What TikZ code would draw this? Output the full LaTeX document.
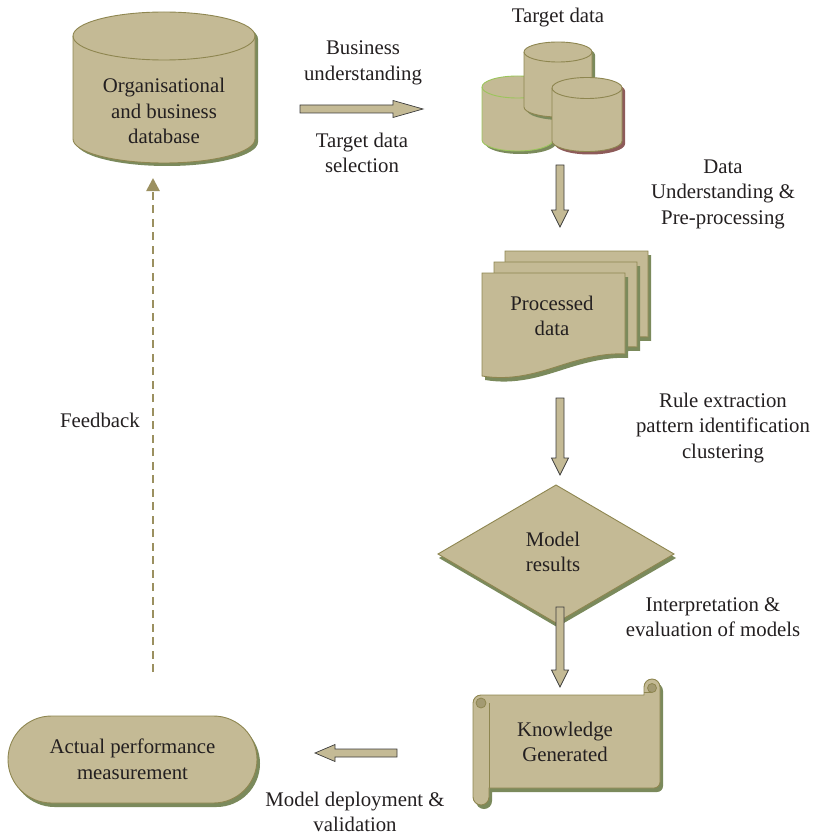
\documentclass[tikz,border=0pt]{standalone}
\usepackage{fontspec}
\setmainfont{Liberation Serif}
\newfontfamily\timesfont{Liberation Serif}
\usetikzlibrary{arrows.meta,calc}
\definecolor{tanf}{HTML}{C4BA95}
\definecolor{oliveb}{HTML}{8E8650}
\definecolor{shgreen}{HTML}{7B8A5C}
\definecolor{lgreen}{HTML}{9CC55C}
\definecolor{redbr}{HTML}{8D5B59}
\definecolor{txt}{HTML}{231F20}
\definecolor{arredge}{HTML}{3C3C3C}
\definecolor{fbcol}{HTML}{9B9060}
\definecolor{curl}{HTML}{A39A72}

% cylinder: cx, top cy, rx, ry, side-bottom y, outline colour, shadow colour
\newcommand\cylinder[7]{%
  \fill[#7, xshift=3pt, yshift=-3pt] (#1-#3,#2) -- (#1-#3,#5) arc[start angle=180,end angle=0,x radius=#3,y radius=#4] -- (#1+#3,#2) arc[start angle=0,end angle=-180,x radius=#3,y radius=#4] -- cycle;
  \filldraw[fill=tanf, draw=#6, line width=0.9pt] (#1-#3,#2) -- (#1-#3,#5) arc[start angle=180,end angle=0,x radius=#3,y radius=#4] -- (#1+#3,#2) arc[start angle=0,end angle=-180,x radius=#3,y radius=#4] -- cycle;
  \draw[draw=#6, line width=0.9pt] (#1-#3,#2) arc[start angle=180,end angle=0,x radius=#3,y radius=#4];
}
% document sheet with wavy bottom: x, y of top-left corner, extra height
\newcommand\docsheet[3]{%
  \begin{scope}[shift={(#1,#2)}]
    \fill[shgreen, shift={(3,4)}] (0,0) -- (143,0) -- (143,81+#3) .. controls (125,80+#3) and (105,84+#3) .. (80,92+#3) .. controls (55,100+#3) and (30,108+#3) .. (0,103+#3) -- cycle;
    \filldraw[fill=tanf, draw=oliveb, line width=0.9pt] (0,0) -- (143,0) -- (143,81+#3) .. controls (125,80+#3) and (105,84+#3) .. (80,92+#3) .. controls (55,100+#3) and (30,108+#3) .. (0,103+#3) -- cycle;
  \end{scope}
}
% block arrows between named coordinates: start, tip, head length
\newcommand\barrowD[3]{%
  \draw[barrow] let \p1=(#1), \p2=(#2) in
    (\x1-4pt,\y1) -- (\x1-4pt,\y2+#3pt) -- (\x1-8.5pt,\y2+#3pt) -- (\x1,\y2) -- (\x1+8.5pt,\y2+#3pt) -- (\x1+4pt,\y2+#3pt) -- (\x1+4pt,\y1) -- cycle;}
\newcommand\barrowR[3]{%
  \draw[barrow] let \p1=(#1), \p2=(#2) in
    (\x1,\y1+4pt) -- (\x2-#3pt,\y1+4pt) -- (\x2-#3pt,\y1+8.5pt) -- (\x2,\y1) -- (\x2-#3pt,\y1-8.5pt) -- (\x2-#3pt,\y1-4pt) -- (\x1,\y1-4pt) -- cycle;}
\newcommand\barrowL[3]{%
  \draw[barrow] let \p1=(#1), \p2=(#2) in
    (\x1,\y1+4pt) -- (\x2+#3pt,\y1+4pt) -- (\x2+#3pt,\y1+8.5pt) -- (\x2,\y1) -- (\x2+#3pt,\y1-8.5pt) -- (\x2+#3pt,\y1-4pt) -- (\x1,\y1-4pt) -- cycle;}

\begin{document}
\begin{tikzpicture}[x=1pt,y=-1pt,
  font=\timesfont\fontsize{20.8}{25.5}\selectfont,
  shapebox/.style={fill=tanf, draw=oliveb, line width=0.9pt},
  shad/.style={fill=shgreen},
  lbl/.style={text=txt, align=center, inner sep=0pt},
  barrow/.style={fill=tanf, draw=arredge, line width=0.7pt, line join=miter},
  fbarrow/.style={draw=fbcol, line width=2.6pt, dash pattern=on 8pt off 5.5pt,
     -{Triangle[width=13pt,length=13pt]}}]
\useasboundingbox (0,0) rectangle (814,837);

% ---- Organisational database cylinder
\cylinder{164}{36}{91}{24}{139}{oliveb}{shgreen}
\node[lbl] (db) at (164,111) {Organisational\\and business\\database};

% ---- Target data: three cylinders
\node[lbl] (tdlabel) at (558,18) {Target data};
\cylinder{517.5}{87}{35.5}{11}{140}{lgreen}{shgreen}
\cylinder{558}{52}{34}{10}{107}{oliveb}{shgreen}
\cylinder{587}{88}{35}{10.5}{141}{oliveb}{redbr}

% ---- Processed data
\docsheet{505}{251}{5}
\docsheet{494}{262}{4}
\docsheet{482}{273}{0}
\node[lbl] (proc) at (552,316) {Processed\\data};

% ---- Model results diamond
\fill[shad] (557,489) -- (676,558) -- (557,627) -- (439,558) -- cycle;
\filldraw[shapebox] (556,485) -- (674,554) -- (556,623) -- (438,554) -- cycle;
\node[lbl] (model) at (553,552) {Model\\results};

% ---- Knowledge generated scroll
\begin{scope}[shift={(3,4)}]
\fill[shad] (481,695) -- (644,695) -- (644,687) arc[start angle=180,end angle=360,radius=8] -- (660,782) arc[start angle=0,end angle=90,radius=6] -- (489,788) -- (489,797) arc[start angle=0,end angle=180,radius=8] -- (473,703) arc[start angle=180,end angle=270,radius=8] -- cycle;
\end{scope}
\filldraw[shapebox] (481,695) -- (644,695) -- (644,687) arc[start angle=180,end angle=360,radius=8] -- (660,782) arc[start angle=0,end angle=90,radius=6] -- (489,788) -- (489,797) arc[start angle=0,end angle=180,radius=8] -- (473,703) arc[start angle=180,end angle=270,radius=8] -- cycle;
\draw[oliveb, line width=0.9pt] (489,703) -- (489,788);
\filldraw[fill=curl, draw=oliveb, line width=0.8pt] (481,703) circle[radius=5];
\filldraw[fill=curl, draw=oliveb, line width=0.8pt] (652,688) circle[radius=4.5];
\draw[oliveb, line width=0.9pt] (644,692) -- (652,692);
\node[lbl] (know) at (565,742) {Knowledge\\Generated};

% ---- Actual performance measurement
\fill[shad, rounded corners=43.5pt] (11,720) rectangle (260,807);
\node[shapebox, rounded corners=43.5pt, minimum width=249pt, minimum height=87pt,
      text=txt, align=center, inner sep=0pt] (perf) at (132.5,759.5) {Actual performance\\measurement};

% ---- connector end points
\coordinate (a1s) at (300,109);  \coordinate (a1e) at (423,109);
\coordinate (a2s) at (560,165);  \coordinate (a2e) at (560,227);
\coordinate (a3s) at (560,398);  \coordinate (a3e) at (560,475);
\coordinate (a4s) at (560,607);  \coordinate (a4e) at (560,687);
\coordinate (a5s) at (397,753);  \coordinate (a5e) at (315,753);
\coordinate (fbs) at (153,672);  \coordinate (fbe) at (153,178);

\barrowR{a1s}{a1e}{30}
\barrowD{a2s}{a2e}{17}
\barrowD{a3s}{a3e}{17}
\barrowD{a4s}{a4e}{17}
\barrowL{a5s}{a5e}{20}
\draw[fbarrow] (fbs) -- (fbe);

% ---- connector labels
\node[lbl] (lbus) at (363,63) {Business\\understanding};
\node[lbl] (lsel) at (362,153) {Target data\\selection};
\node[lbl] (ldup) at (723,194) {Data\\Understanding \&\\Pre-processing};
\node[lbl] (lrule) at (723,428) {Rule extraction\\pattern identification\\clustering};
\node[lbl] (linterp) at (713,617) {Interpretation \&\\evaluation of models};
\node[lbl] (ldep) at (355,812) {Model deployment \&\\validation};
\node[lbl] (lfb) at (100,420) {Feedback};
\end{tikzpicture}
\end{document}
